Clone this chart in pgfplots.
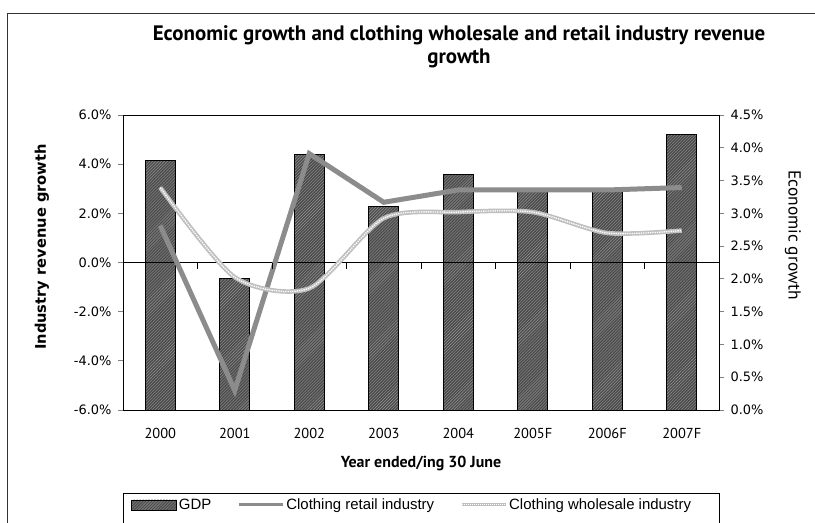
\documentclass[border=0pt]{standalone}
\usepackage{fontspec}
\setmainfont{PT Sans}
\newfontfamily\dejavu{DejaVu Sans}
\newfontfamily\libsans{Liberation Sans}
\usepackage{pgfplots}
\pgfplotsset{compat=1.18}
\usetikzlibrary{patterns}
\tikzset{barstyle/.style={draw=black, line width=0.8bp, fill=black!70, postaction={pattern=north east lines, pattern color=black!42}}}
\begin{document}
\begin{tikzpicture}
\path[use as bounding box] (0,0) rectangle (815bp,-523bp);
\draw[line width=0.8bp, black!80] (7bp,-540bp) -- (7bp,-13bp) -- (840bp,-13bp);

% GDP bars on the right axis
\begin{axis}[
  at={(123bp,-410bp)}, anchor=south west, scale only axis,
  width=596bp, height=295bp,
  xmin=-0.5, xmax=7.5, ymin=0, ymax=4.5,
  axis y line*=right, hide x axis,
  ytick={0,0.5,1,1.5,2,2.5,3,3.5,4,4.5},
  yticklabel={\pgfmathprintnumber[fixed,fixed zerofill,precision=1]{\tick}\%},
  /pgf/number format/assume math mode=true,
  tick align=outside, major tick length=5bp,
  ytick style={line width=0.8bp},
  y axis line style={line width=0.8bp},
  yticklabel style={font=\dejavu\fontsize{13}{15}\selectfont, xshift=3bp},
  ybar, bar width=30bp,
]
\addplot[barstyle] coordinates {(0,3.8) (1,2.0) (2,3.9) (3,3.1) (4,3.6) (5,3.35) (6,3.35) (7,4.2)};
\end{axis}

% Industry lines on the left axis
\begin{axis}[
  at={(123bp,-410bp)}, anchor=south west, scale only axis,
  width=596bp, height=295bp,
  xmin=-0.5, xmax=7.5, ymin=-6, ymax=6,
  ytick={-6,-4,-2,0,2,4,6},
  ytick pos=left,
  yticklabel={\pgfmathprintnumber[fixed,fixed zerofill,precision=1]{\tick}\%},
  /pgf/number format/assume math mode=true,
  tick align=outside, major tick length=5bp,
  ytick style={line width=0.8bp},
  axis line style={line width=0.8bp},
  yticklabel style={font=\dejavu\fontsize{13}{15}\selectfont, xshift=-3bp},
  xtick={0,...,7},
  xticklabels={2000,2001,2002,2003,2004,2005F,2006F,2007F},
  xtick pos=bottom,
  x tick style={draw=none},
  xticklabel style={font=\fontsize{14.5}{16}\selectfont, yshift=-10bp},
  extra y ticks={0}, extra y tick labels={},
  extra y tick style={grid=major, major grid style={black, line width=0.8bp}},
  legend columns=3,
  legend style={at={(axis description cs:0.0084,-0.322)}, anchor=west, draw=none, fill=none,
    font=\libsans\fontsize{15}{17}\selectfont,
    /tikz/every even column/.append style={column sep=24bp}},
  legend cell align=left,
]
\addlegendimage{legend image code/.code={\draw[barstyle] (0bp,-5bp) rectangle (45bp,5bp);}}
\addlegendentry{GDP}
\addplot[black!45, line width=5bp, legend image code/.code={\draw[black!45, line width=3bp] (0bp,0bp) -- (44bp,0bp);}]
  coordinates {(0,1.5) (1,-5.2) (2,4.43) (3,2.45) (4,2.95) (5,2.95) (6,2.95) (7,3.05)};
\addlegendentry{Clothing retail industry}
\addplot[black!25, line width=4.5bp, smooth, tension=0.45, legend image code/.code={\draw[black!25, line width=3bp] (0bp,0bp) -- (44bp,0bp);\draw[white, line width=1bp, densely dotted] (0bp,0bp) -- (44bp,0bp);}]
  coordinates {(0,3.05) (1,-0.6) (2,-1.05) (3,1.8) (4,2.05) (5,2.05) (6,1.2) (7,1.3)};
\addlegendentry{Clothing wholesale industry}
\addplot[white, line width=1.3bp, densely dotted, smooth, tension=0.45, forget plot]
  coordinates {(0,3.05) (1,-0.6) (2,-1.05) (3,1.8) (4,2.05) (5,2.05) (6,1.2) (7,1.3)};
\pgfplotsinvokeforeach{0.5,1.5,2.5,3.5,4.5,5.5,6.5}{\draw[line width=0.8bp] (axis cs:#1,0) -- ++(0bp,-6bp);}
\end{axis}

% legend frame
\draw[line width=0.8bp] (123bp,-540bp) -- (123bp,-493bp) -- (719bp,-493bp) -- (719bp,-540bp);

% titles
\node[font=\bfseries\fontsize{21}{23}\selectfont, anchor=base] at (459bp,-40bp) {Economic growth and clothing wholesale and retail industry revenue};
\node[font=\bfseries\fontsize{21}{23}\selectfont, anchor=base] at (459bp,-63bp) {growth};
\node[rotate=90, font=\dejavu\bfseries\fontsize{14.7}{16}\selectfont] at (42bp,-247bp) {Industry revenue growth};
\node[rotate=-90, font=\fontsize{17.5}{20}\selectfont] at (793bp,-235bp) {Economic growth};
\node[font=\bfseries\fontsize{16}{18}\selectfont] at (421bp,-463bp) {Year ended/ing 30 June};
\end{tikzpicture}
\end{document}
